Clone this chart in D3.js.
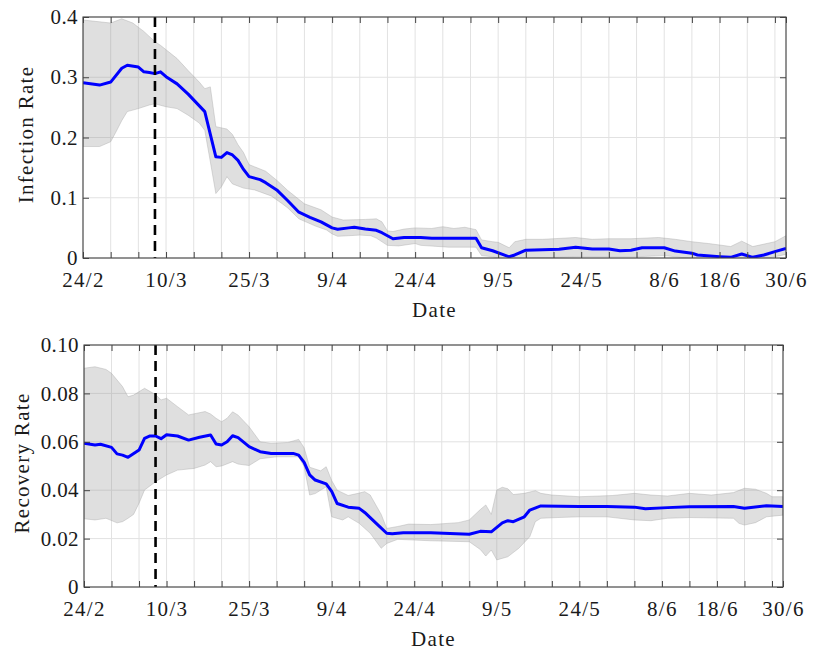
<!DOCTYPE html>
<html>
<head>
<meta charset="utf-8">
<script src="https://cdn.jsdelivr.net/npm/d3@7"></script>
<style>
  body { margin: 0; background: #fff; }
</style>
</head>
<body>
<svg id="chart" width="814" height="654"></svg>
<script>
// ---- time axis ----
const startDate = "2020-02-24";
const endDate = "2020-06-30";
const lockdownDate = "2020-03-08";
const gridStepDays = 5;
const xLabelDates = ["2020-02-24", "2020-03-10", "2020-03-25", "2020-04-09", "2020-04-24",
                     "2020-05-09", "2020-05-24", "2020-06-08", "2020-06-18", "2020-06-30"];

// ---- infection rate: [days since 24/2, value] ----
const infectionMean = [[0,0.291],[3,0.287],[5,0.292],[7,0.315],[8,0.320],[10,0.317],[11,0.309],[12,0.308],
  [13,0.306],[14,0.309],[15,0.301],[17,0.289],[19,0.272],[22,0.243],[24,0.168],[25,0.167],[26,0.175],
  [27,0.171],[28,0.162],[29,0.147],[30,0.135],[32,0.130],[33,0.125],[35,0.113],[37,0.095],[39,0.076],
  [41,0.0675],[43,0.060],[45,0.050],[46,0.0478],[48,0.050],[49,0.051],[51,0.048],[53,0.046],[54,0.042],
  [56,0.032],[58,0.034],[61,0.034],[63,0.0326],[67,0.0326],[71,0.0326],[72,0.017],[74,0.012],[77,0.002],
  [78,0.005],[80,0.013],[83,0.0135],[86,0.0145],[89,0.018],[92,0.015],[95,0.015],[97,0.012],[99,0.013],
  [101,0.017],[105,0.017],[107,0.0115],[110,0.008],[111,0.005],[115,0.0022],[117,0.0011],[119,0.0066],
  [121,0.0011],[123,0.005],[125,0.0105],[127,0.016]];
const infectionUpper = [[0,0.395],[3,0.392],[5,0.390],[7,0.397],[9,0.390],[11,0.376],[13,0.359],[14,0.353],
  [17,0.331],[19,0.311],[21,0.292],[22,0.281],[23,0.284],[24,0.218],[26,0.214],[27,0.205],[28,0.188],
  [29,0.175],[30,0.155],[33,0.144],[35,0.129],[37,0.112],[40,0.090],[43,0.080],[45,0.068],[47,0.063],
  [51,0.064],[53,0.065],[54,0.060],[55,0.045],[56,0.044],[58,0.048],[60,0.050],[63,0.049],[65,0.052],
  [67,0.049],[69,0.051],[71,0.047],[72,0.030],[74,0.027],[75,0.026],[77,0.017],[78,0.027],[80,0.031],
  [83,0.031],[85,0.032],[89,0.034],[92,0.031],[95,0.032],[99,0.032],[104,0.034],[107,0.031],[110,0.027],
  [113,0.024],[115,0.0216],[117,0.019],[119,0.028],[121,0.019],[125,0.027],[127,0.037]];
const infectionLower = [[0,0.185],[3,0.185],[5,0.193],[6,0.210],[7,0.228],[8,0.243],[10,0.248],[12,0.254],
  [13,0.256],[15,0.251],[17,0.248],[19,0.237],[21,0.224],[22,0.212],[23,0.160],[24,0.107],[25,0.118],
  [26,0.135],[27,0.123],[29,0.116],[31,0.113],[34,0.103],[36,0.090],[37,0.083],[39,0.065],[42,0.053],
  [44,0.0465],[45,0.040],[46,0.036],[48,0.037],[50,0.038],[52,0.037],[53,0.033],[55,0.021],[57,0.020],
  [60,0.024],[61,0.021],[66,0.018],[71,0.018],[72,0.004],[74,0.002],[76,-0.002],[80,-0.001],[85,0.001],
  [90,0.002],[95,0.002],[100,0.002],[105,0.004],[110,-0.001],[115,-0.003],[120,-0.002],[123,-0.001],
  [125,0.002],[127,0.006]];

// ---- recovery rate: [days since 24/2, value] ----
const recoveryMean = [[0,0.0594],[2,0.0587],[3,0.0590],[5,0.0577],[6,0.0550],[7,0.0545],[8,0.0536],
  [10,0.0566],[11,0.0614],[12,0.0624],[13,0.0624],[14,0.0613],[15,0.0629],[17,0.0624],[19,0.0607],
  [21,0.0619],[23,0.0628],[24,0.0591],[25,0.0587],[26,0.0600],[27,0.0625],[28,0.0617],[30,0.0580],
  [32,0.0559],[34,0.0552],[38,0.0552],[39,0.0545],[40,0.0515],[41,0.0463],[42,0.0442],[44,0.0426],
  [45,0.0395],[46,0.0345],[48,0.0330],[50,0.0325],[51,0.0308],[53,0.0265],[55,0.0222],[56,0.0220],
  [58,0.0224],[63,0.0224],[70,0.0218],[72,0.0230],[74,0.0228],[76,0.0265],[77,0.0274],[78,0.0270],
  [80,0.0290],[81,0.0318],[83,0.0335],[90,0.0333],[95,0.0333],[100,0.0330],[102,0.0323],[106,0.0328],
  [110,0.0332],[118,0.0333],[120,0.0325],[124,0.0336],[127,0.0333]];
const recoveryUpper = [[0,0.0904],[2,0.0910],[4,0.0899],[5,0.0883],[7,0.0828],[8,0.0786],[9,0.0793],
  [11,0.0821],[13,0.0795],[14,0.0773],[15,0.0780],[17,0.0745],[19,0.0711],[22,0.0725],[23,0.0715],
  [24,0.0697],[25,0.0683],[26,0.0697],[27,0.0724],[28,0.0710],[30,0.0662],[32,0.0600],[34,0.0594],
  [37,0.0597],[39,0.0610],[40,0.0575],[41,0.0495],[43,0.0480],[44,0.0497],[45,0.0440],[46,0.0400],
  [48,0.0378],[50,0.0388],[51,0.0394],[52,0.0380],[54,0.0300],[55,0.0242],[57,0.0250],[59,0.0260],
  [63,0.0258],[68,0.0266],[70,0.0277],[72,0.0320],[73,0.0339],[74,0.0300],[75,0.0401],[76,0.0412],
  [77,0.0406],[78,0.0382],[80,0.0387],[82,0.0398],[83,0.0387],[85,0.0380],[90,0.0373],[96,0.0378],
  [100,0.0387],[103,0.0380],[106,0.0376],[110,0.0387],[114,0.0380],[118,0.0390],[120,0.0408],
  [122,0.0404],[124,0.0387],[125,0.0373],[127,0.0373]];
const recoveryLower = [[0,0.0282],[2,0.0277],[4,0.0284],[6,0.0265],[7,0.0270],[8,0.0284],[9,0.0300],
  [10,0.0346],[11,0.0401],[13,0.0435],[14,0.0449],[15,0.0463],[17,0.0483],[20,0.0490],[22,0.0504],
  [23,0.0518],[24,0.0497],[25,0.0500],[27,0.0518],[28,0.0508],[30,0.0502],[32,0.0530],[35,0.0538],
  [39,0.0538],[40,0.0497],[41,0.0380],[42,0.0386],[44,0.0414],[45,0.0290],[47,0.0277],[48,0.0290],
  [50,0.0263],[52,0.0222],[54,0.0160],[55,0.0180],[57,0.0197],[60,0.0194],[63,0.0191],[70,0.0187],
  [72,0.0155],[73,0.0128],[74,0.0153],[75,0.0112],[77,0.0125],[79,0.0160],[81,0.0208],[82,0.0270],
  [83,0.0284],[86,0.0287],[90,0.0290],[95,0.0290],[100,0.0277],[103,0.0274],[106,0.0284],[110,0.0287],
  [118,0.0284],[119,0.0263],[120,0.0256],[122,0.0266],[124,0.0290],[127,0.0297]];

// ---- y ticks ----
const infectionTicks = [0, 0.1, 0.2, 0.3, 0.4];
const infectionTickLabels = ["0", "0.1", "0.2", "0.3", "0.4"];
const recoveryTicks = [0, 0.02, 0.04, 0.06, 0.08, 0.10];
const recoveryTickLabels = ["0", "0.02", "0.04", "0.06", "0.08", "0.10"];

// ---------------------------------------------------------------
const FONT = "'Liberation Serif', 'DejaVu Serif', serif";
const FONT_SIZE = 21;
const parse = d3.utcParse("%Y-%m-%d");
const t0 = parse(startDate), t1 = parse(endDate);
const toDate = d => d3.utcDay.offset(t0, d);
const fmt = d3.utcFormat("%-d/%-m");
const totalDays = d3.utcDay.count(t0, t1);
const gridDates = d3.range(0, totalDays + 1, gridStepDays).map(toDate);
const labelDates = xLabelDates.map(parse);
const labelKeys = new Set(labelDates.map(d => +d));
const allTickDates = Array.from(new Set([...gridDates, ...labelDates].map(d => +d)))
  .sort((a, b) => a - b).map(v => new Date(v));

const svg = d3.select("#chart");

const textStyle = (sel, spacing = 1.3) => sel
  .style("font-family", FONT).style("font-size", FONT_SIZE + "px")
  .style("letter-spacing", spacing + "px").style("fill", "#1a1a1a");

const panels = [
  { box: { left: 83, right: 786, top: 17, bottom: 258 }, yMax: 0.4, ticks: infectionTicks, tickLabels: infectionTickLabels,
    mean: infectionMean, upper: infectionUpper, lower: infectionLower, yLabel: "Infection Rate", yLabelX: 33 },
  { box: { left: 84, right: 783, top: 345, bottom: 587 }, yMax: 0.10, ticks: recoveryTicks, tickLabels: recoveryTickLabels,
    mean: recoveryMean, upper: recoveryUpper, lower: recoveryLower, yLabel: "Recovery Rate", yLabelX: 29 }
];

panels.forEach((p, i) => {
  const { left, right, top, bottom } = p.box;
  const w = right - left, h = bottom - top;
  const x = d3.scaleUtc().domain([t0, t1]).range([left, right]);
  const y = d3.scaleLinear().domain([0, p.yMax]).range([bottom, top]);
  const g = svg.append("g");

  const clipId = "clip" + i;
  svg.append("clipPath").attr("id", clipId)
    .append("rect").attr("x", left).attr("y", top).attr("width", w).attr("height", h);

  // grid
  const grid = g.append("g");
  grid.selectAll("line.gx").data(allTickDates).join("line")
    .attr("x1", d => x(d)).attr("x2", d => x(d)).attr("y1", top).attr("y2", bottom)
    .attr("stroke", "#e2e2e2").attr("stroke-width", 1);
  grid.selectAll("line.gy").data(p.ticks).join("line")
    .attr("x1", left).attr("x2", right).attr("y1", d => y(d)).attr("y2", d => y(d))
    .attr("stroke", "#e2e2e2").attr("stroke-width", 1);

  // confidence band
  const line = d3.line().x(d => x(toDate(d[0]))).y(d => y(d[1]));
  const bandPts = p.upper.concat(p.lower.slice().reverse());
  g.append("path").attr("clip-path", `url(#${clipId})`)
    .attr("d", line(bandPts) + "Z")
    .attr("fill", "#8c8c8c").attr("fill-opacity", 0.28)
    .attr("stroke", "#a8a8a8").attr("stroke-opacity", 0.5).attr("stroke-width", 0.8);

  // mean line
  g.append("path").attr("clip-path", `url(#${clipId})`)
    .attr("d", line(p.mean))
    .attr("fill", "none").attr("stroke", "#0000ff").attr("stroke-width", 3)
    .attr("stroke-linejoin", "round");

  // lockdown marker
  const xl = x(parse(lockdownDate));
  g.append("line").attr("x1", xl).attr("x2", xl).attr("y1", top).attr("y2", bottom)
    .attr("stroke", "#000").attr("stroke-width", 2.6).attr("stroke-dasharray", "10,6");

  // axes with inward ticks
  const xb = d3.axisBottom(x).tickValues(allTickDates).tickSizeInner(-6).tickSizeOuter(0).tickPadding(14)
    .tickFormat(d => labelKeys.has(+d) ? fmt(d) : "");
  const xt = d3.axisTop(x).tickValues(allTickDates).tickSizeInner(-6).tickSizeOuter(0).tickFormat("");
  const yl = d3.axisLeft(y).tickValues(p.ticks).tickSizeInner(-6).tickSizeOuter(0).tickPadding(5)
    .tickFormat((d, k) => p.tickLabels[k]);
  const yr = d3.axisRight(y).tickValues(p.ticks).tickSizeInner(-6).tickSizeOuter(0).tickFormat("");

  const styleAxis = spacing => sel => {
    sel.select(".domain").remove();
    sel.selectAll(".tick line").attr("stroke", "#444");
    sel.selectAll(".tick text").call(textStyle, spacing);
  };
  g.append("g").attr("transform", `translate(0,${bottom})`).call(xb).call(styleAxis(1.3));
  g.append("g").attr("transform", `translate(0,${top})`).call(xt).call(styleAxis(1.3));
  g.append("g").attr("transform", `translate(${left},0)`).call(yl).call(styleAxis(0.4));
  g.append("g").attr("transform", `translate(${right},0)`).call(yr).call(styleAxis(0.4));

  // frame
  g.append("rect").attr("x", left).attr("y", top).attr("width", w).attr("height", h)
    .attr("fill", "none").attr("stroke", "#444").attr("stroke-width", 1.1);

  // axis titles
  g.append("text").attr("x", (left + right) / 2).attr("y", bottom + 59)
    .attr("text-anchor", "middle").call(textStyle).text("Date");
  g.append("text").attr("transform", `translate(${p.yLabelX},${(top + bottom) / 2 - 3}) rotate(-90)`)
    .attr("text-anchor", "middle").call(textStyle).text(p.yLabel);
});
</script>
</body>
</html>
